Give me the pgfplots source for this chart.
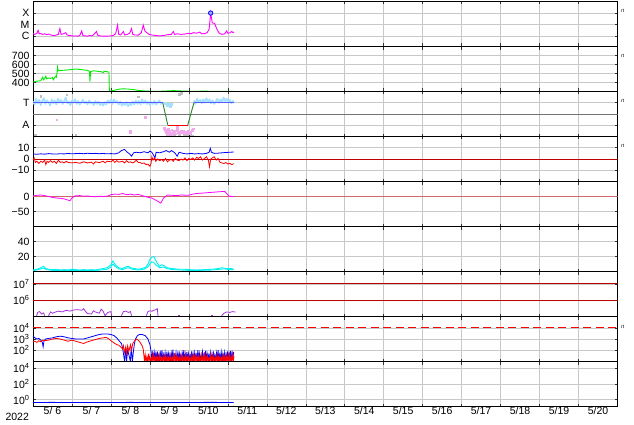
\documentclass[border=0pt]{standalone}
\usepackage{fontspec}
\setmainfont{Liberation Sans}
\usepackage{pgfplots}
\pgfplotsset{compat=1.18}
\definecolor{gridgray}{RGB}{200,200,200}
\definecolor{mag}{RGB}{255,0,255}
\definecolor{grn}{RGB}{0,235,0}
\definecolor{ltblue}{RGB}{165,225,255}
\definecolor{tblue}{RGB}{90,90,255}
\definecolor{tgreen}{RGB}{40,130,40}
\definecolor{pinkish}{RGB}{240,170,235}
\definecolor{dotgray}{RGB}{190,190,190}
\definecolor{darkred}{RGB}{190,0,0}
\definecolor{zeroline}{RGB}{205,105,105}
\definecolor{cyn}{RGB}{0,240,240}
\definecolor{purp}{RGB}{165,50,220}
\pgfplotsset{
 panel/.style={
  scale only axis, width=584.5pt, height=45pt, xmin=0, xmax=15,
  xtick={0,...,15}, xticklabels={}, xmajorgrids, ymajorgrids,
  grid style={draw=gridgray, line width=0.5pt},
  separate axis lines,
  x axis line style={line width=1.8pt},
  y axis line style={line width=0.7pt},
  tick style={black!80, line width=0.5pt}, major tick length=3pt,
  ticklabel style={font=\fontsize{10.5}{11}\selectfont, inner ysep=0.5pt},
  /pgf/number format/assume math mode=true,
  anchor=south west, unbounded coords=jump,
 },
 rt/.style={extra description/.code={\node[anchor=west,font=\fontsize{5}{6}\selectfont,inner sep=0pt] at (axis description cs:1.006,#1) {rt};}},
}
\begin{document}
\begin{tikzpicture}
\useasboundingbox (0,0) rectangle (634pt,424pt);
% Panel 1: X-ray class
\begin{axis}[panel, at={(33pt,377.5pt)}, ymin=-6.9, ymax=-3.0,
  ytick={-6,-5,-4}, yticklabels={C,M,X}, rt=0.78]
\addplot[mag, line width=0.9pt] coordinates {(0.00,-5.80) (0.05,-5.85) (0.10,-5.75) (0.13,-5.50) (0.16,-5.80) (0.20,-5.78) (0.25,-5.85) (0.30,-5.80) (0.35,-5.88) (0.40,-5.82) (0.45,-5.90) (0.50,-5.93) (0.55,-5.95) (0.60,-5.90) (0.65,-5.85) (0.69,-5.35) (0.72,-5.85) (0.78,-5.80) (0.84,-5.70) (0.87,-5.88) (0.92,-5.95) (1.00,-5.97) (1.05,-6.00) (1.10,-5.98) (1.15,-6.00) (1.20,-5.95) (1.25,-5.55) (1.28,-5.95) (1.35,-5.98) (1.40,-6.00) (1.45,-5.95) (1.50,-5.98) (1.55,-5.90) (1.63,-5.60) (1.66,-5.92) (1.72,-5.98) (1.80,-6.00) (1.90,-6.00) (2.00,-5.98) (2.05,-5.95) (2.12,-5.80) (2.17,-5.05) (2.20,-5.85) (2.25,-5.90) (2.32,-5.60) (2.35,-5.90) (2.42,-5.85) (2.48,-5.75) (2.53,-5.35) (2.56,-5.85) (2.62,-5.90) (2.70,-5.92) (2.78,-5.70) (2.83,-5.05) (2.87,-5.55) (2.92,-5.70) (2.98,-5.85) (3.05,-5.90) (3.15,-5.95) (3.25,-5.98) (3.35,-5.95) (3.45,-5.88) (3.55,-5.85) (3.60,-5.60) (3.63,-5.85) (3.70,-5.80) (3.80,-5.85) (3.90,-5.82) (4.00,-5.75) (4.05,-5.80) (4.12,-5.70) (4.20,-5.75) (4.28,-5.65) (4.33,-5.80) (4.40,-5.78) (4.47,-5.70) (4.52,-5.40) (4.56,-4.00) (4.60,-4.85) (4.66,-4.90) (4.72,-5.40) (4.78,-5.75) (4.85,-5.85) (4.92,-5.80) (4.97,-5.55) (5.00,-5.75) (5.05,-5.72) (5.10,-5.60) (5.13,-5.70) (5.16,-5.65)};
\addplot[only marks, mark=*, mark size=2.2pt, draw=blue, fill=blue!35, line width=0.8pt] coordinates {(4.56,-4.0)};
\end{axis}
% Panel 2: solar wind speed
\begin{axis}[panel, at={(33pt,332.5pt)}, ymin=300, ymax=800,
  ytick={400,500,600,700}, rt=0.78]
\addplot[grn, line width=0.9pt] coordinates {(0,405) (0.1,415) (0.2,420) (0.25,460) (0.27,430) (0.3,445) (0.33,470) (0.35,440) (0.4,450) (0.45,445) (0.5,455) (0.52,430) (0.55,450) (0.58,470) (0.6,460) (0.62,520) (0.63,570) (0.65,530) (0.75,535) (0.9,540) (1.0,545) (1.1,550) (1.2,545) (1.3,540) (1.4,535) (1.45,525) (1.46,410) (1.48,520) (1.55,530) (1.65,525) (1.75,520) (1.8,510) (1.83,525) (1.9,520) (1.95,515) (1.96,300) (2.0,305) (2.1,315) (2.2,325) (2.3,330) (2.4,328) (2.5,325) (2.6,320) (2.7,312) (2.8,308) (2.9,305) (3.0,303) (3.2,302) (3.4,305) (3.6,310) (3.8,306) (4.0,303) (4.2,302) (4.4,305) (4.6,301) (4.8,303) (5.0,302) (5.15,303)};
\end{axis}
% Panel 3: T / A
\begin{axis}[panel, at={(33pt,287.5pt)}, ymin=-2, ymax=2,
  ytick={-1,1}, yticklabels={A,T}, rt=0.78]
\addplot[black!55, line width=0.8pt] coordinates {(0,0) (15,0)};
\addplot[ltblue, line width=1.8pt, line join=round] coordinates {(0.00,1.10) (0.04,0.85) (0.08,1.35) (0.12,0.95) (0.16,1.25) (0.20,0.80) (0.24,1.15) (0.28,1.40) (0.32,0.90) (0.36,1.20) (0.40,1.05) (0.44,0.75) (0.48,1.30) (0.52,0.95) (0.56,1.20) (0.60,0.85) (0.64,1.35) (0.68,1.00) (0.72,1.25) (0.76,0.90) (0.80,1.15) (0.84,1.45) (0.88,0.95) (0.92,1.10) (0.96,0.80) (1.00,1.20) (1.04,1.00) (1.08,1.30) (1.12,0.90) (1.16,1.15) (1.20,0.85) (1.24,1.05) (1.28,1.25) (1.32,0.95) (1.36,1.10) (1.40,0.85) (1.44,1.20) (1.48,0.95) (1.52,1.05) (1.56,0.80) (1.60,1.15) (1.64,0.90) (1.68,1.10) (1.72,0.80) (1.76,1.00) (1.80,0.75) (1.84,1.05) (1.88,0.85) (1.92,1.20) (1.96,0.95) (2.00,1.25) (2.04,0.90) (2.08,1.30) (2.12,1.00) (2.16,1.15) (2.20,0.85) (2.24,1.10) (2.28,0.75) (2.32,1.00) (2.36,0.80) (2.40,1.05) (2.44,0.70) (2.48,0.95) (2.52,0.80) (2.56,1.10) (2.60,0.85) (2.64,1.20) (2.68,0.90) (2.72,1.15) (2.76,0.85) (2.80,1.30) (2.84,0.95) (2.88,1.20) (2.92,0.90) (2.96,1.10) (3.00,0.80) (3.04,1.05) (3.08,0.90) (3.12,1.15) (3.16,0.85) (3.20,1.00) (3.24,1.20) (3.28,0.90) (3.32,1.05) (3.36,nan) (4.13,1.20) (4.17,0.90) (4.21,1.35) (4.25,1.05) (4.29,1.25) (4.33,0.95) (4.37,1.30) (4.41,1.00) (4.45,1.40) (4.49,1.10) (4.53,1.30) (4.57,0.95) (4.61,1.20) (4.65,0.90) (4.69,1.10) (4.73,1.35) (4.77,1.00) (4.81,1.30) (4.85,1.05) (4.89,1.45) (4.93,1.15) (4.97,1.35) (5.01,1.05) (5.05,1.25) (5.09,0.95) (5.13,1.15) (5.16,1.00)};
\addplot[only marks, mark=square*, mark size=0.9pt, ltblue] coordinates {(3.40,0.95) (3.44,0.75) (3.47,0.90) (3.52,0.65) (3.55,0.85)};
\addplot[only marks, mark=square*, mark size=0.8pt, dotgray] coordinates {(0.86,1.7) (0.20,1.6) (2.70,1.55) (3.81,1.84) (3.75,1.75) (3.50,-1.9) (3.62,-1.85) (3.75,-1.9) (3.88,-1.85) (3.95,-1.9) (4.05,-1.88) (4.10,-1.92) (0.05,-1.9) (1.10,-1.9)};
\addplot[only marks, mark=square*, mark size=0.9pt, pinkish] coordinates {(0.61,-0.5) (2.87,-0.3) (2.49,-1.5) (2.49,-1.65) (3.36,-1.25) (3.40,-1.45) (3.42,-1.6) (3.46,-1.35) (3.50,-1.55) (3.53,-1.7) (3.56,-1.4) (3.60,-1.6) (3.63,-1.5) (3.66,-1.75) (3.70,-1.45) (3.73,-1.6) (3.76,-1.7) (3.80,-1.5) (3.83,-1.65) (3.86,-1.55) (3.90,-1.75) (3.93,-1.6) (3.97,-1.5) (4.00,-1.7) (4.04,-1.6) (4.08,-1.45) (4.12,-1.3) (3.44,-1.8) (3.58,-1.8) (3.70,-1.2)};
\addplot[tblue, line width=1pt] coordinates {(0,1) (3.33,1) (3.34,nan) (4.13,1) (5.16,1)};
\addplot[tgreen, line width=0.9pt] coordinates {(3.33,1) (3.46,-1) (3.47,nan) (3.97,-1) (4.13,1)};
\addplot[red, line width=1pt] coordinates {(3.46,-1) (3.97,-1)};
\end{axis}
% Panel 4: magnetic field
\begin{axis}[panel, at={(33pt,242.5pt)}, ymin=-20, ymax=20,
  ytick={-10,0,10}, yticklabels={−10,0,10}, rt=0.78]
\addplot[darkred, line width=0.8pt] coordinates {(0,0) (15,0)};
\addplot[blue, line width=0.8pt] coordinates {(0,4.5) (0.1,4.2) (0.2,4.6) (0.3,4.3) (0.4,4.8) (0.5,4.5) (0.6,4.4) (0.7,4.7) (0.8,4.5) (0.9,4.9) (1.0,4.6) (1.1,4.8) (1.2,5.0) (1.3,4.7) (1.4,5.1) (1.5,4.8) (1.6,5.0) (1.7,4.7) (1.8,4.9) (1.9,4.6) (2.0,4.8) (2.1,4.5) (2.2,5.5) (2.27,7.5) (2.35,8.5) (2.42,6) (2.48,4.5) (2.53,2.5) (2.58,5.5) (2.65,6) (2.75,5.5) (2.85,6.5) (2.95,5.5) (3.0,7) (3.05,6) (3.1,3) (3.13,1) (3.16,6) (3.25,5.5) (3.35,6.5) (3.42,7.5) (3.5,6) (3.55,7.5) (3.6,6.5) (3.65,5) (3.7,2.5) (3.75,6) (3.85,5) (3.95,4.5) (4.05,5) (4.15,4.5) (4.25,4.8) (4.35,4.5) (4.45,5) (4.52,6) (4.55,9.5) (4.58,6) (4.65,5) (4.75,5.2) (4.85,5.5) (4.95,5.8) (5.05,6) (5.15,6.2)};
\addplot[red, line width=0.8pt] coordinates {(0,-1) (0.03,1) (0.06,-3) (0.1,-2) (0.15,-4) (0.2,-2) (0.25,-3) (0.3,-1) (0.33,-5) (0.36,-2) (0.4,-3) (0.45,-1.5) (0.5,-3) (0.55,-2) (0.6,-4) (0.65,-1) (0.7,-3) (0.75,-2.5) (0.8,-3.5) (0.85,-2) (0.9,-3) (1.0,-3.5) (1.1,-3) (1.2,-3.8) (1.3,-2.5) (1.4,-3.5) (1.5,-2.8) (1.55,-4.5) (1.6,-2.5) (1.7,-3.2) (1.8,-2) (1.85,-3.5) (1.9,-2) (2.0,-2.5) (2.05,-1) (2.1,-3) (2.15,-1.5) (2.2,-2.8) (2.3,-2) (2.35,-3.5) (2.4,-1.5) (2.45,-3) (2.5,-2.5) (2.55,-3.5) (2.6,-2.8) (2.65,-1) (2.7,-3) (2.75,-3.2) (2.8,-4) (2.85,-3.5) (2.9,-5) (2.95,-4.5) (3.0,-6.5) (3.03,-4) (3.05,2) (3.08,-1) (3.12,1) (3.15,-2) (3.2,0) (3.25,-1.5) (3.3,-0.5) (3.35,-2) (3.4,0.5) (3.45,-2.5) (3.5,-1) (3.55,-0.5) (3.6,-2) (3.65,0.5) (3.7,-1) (3.75,-1.5) (3.8,0) (3.85,-1) (3.9,1) (3.95,-1.5) (4.0,0.5) (4.05,-0.5) (4.1,1) (4.15,-1) (4.2,1.5) (4.25,0.5) (4.3,2) (4.35,-1) (4.4,0.5) (4.45,2) (4.5,-1) (4.53,-7) (4.56,0) (4.6,1) (4.65,2) (4.7,-1) (4.75,0.5) (4.8,-3) (4.85,-3.5) (4.9,-4) (4.95,-3.2) (5.0,-4.5) (5.05,-3.8) (5.1,-5) (5.15,-4.2)};
\end{axis}
% Panel 5
\begin{axis}[panel, at={(33pt,197.5pt)}, ymin=-100, ymax=50,
  ytick={-50,0}, yticklabels={−50,0}]
\addplot[zeroline, line width=1.8pt] coordinates {(0,0) (15,0)};
\addplot[mag, line width=0.8pt] coordinates {(0,2) (0.1,4) (0.2,5) (0.3,3) (0.4,0) (0.5,-3) (0.6,-5) (0.7,-6) (0.8,-8) (0.9,-12) (0.95,-14) (1.0,-5) (1.08,2) (1.2,3) (1.3,1) (1.4,2) (1.5,0) (1.6,-1) (1.7,1) (1.8,0) (1.93,2) (2.0,6) (2.1,8) (2.2,7) (2.3,10) (2.4,6) (2.5,8) (2.6,5) (2.7,7) (2.83,2) (2.96,-3) (3.05,-5) (3.15,-12) (3.28,-22) (3.35,-5) (3.45,5) (3.56,4) (3.7,3) (3.8,5) (3.98,4) (4.1,8) (4.2,10) (4.3,11) (4.41,12) (4.5,13) (4.6,14) (4.7,15) (4.8,16) (4.92,17) (4.97,10) (5.03,1) (5.1,0) (5.15,0)};
\end{axis}
% Panel 6
\begin{axis}[panel, at={(33pt,152.5pt)}, ymin=0, ymax=60,
  ytick={20,40}]
\addplot[cyn, line width=0.9pt] coordinates {(0,2) (0.1,3) (0.2,5) (0.27,7) (0.33,4) (0.4,3) (0.5,2.5) (0.6,3) (0.7,2) (0.8,2.5) (0.9,2) (1.0,3) (1.1,2.5) (1.2,2) (1.3,2.5) (1.4,2) (1.5,2.5) (1.6,2) (1.7,3) (1.8,4) (1.9,5) (2.0,9) (2.05,14) (2.1,10) (2.15,7) (2.2,5) (2.3,4) (2.4,6.5) (2.45,7) (2.5,5) (2.6,4) (2.7,3) (2.8,4) (2.9,6) (2.95,10) (3.0,16) (3.05,19) (3.1,20) (3.15,15) (3.2,10) (3.25,7) (3.3,9) (3.35,8) (3.45,5) (3.55,4) (3.65,3.5) (3.75,3) (3.9,3) (4.0,2.5) (4.2,2) (4.4,2.5) (4.6,3) (4.75,4) (4.85,5) (4.95,4) (5.05,4) (5.15,3.5)};
\addplot[cyn, line width=0.9pt] coordinates {(0,1) (0.1,2) (0.2,3.5) (0.27,4.5) (0.35,2.5) (0.5,1.5) (0.7,1.2) (0.9,1.5) (1.1,1.2) (1.3,1.5) (1.5,1.2) (1.7,1.8) (1.9,3) (2.0,6) (2.05,10) (2.1,7) (2.2,3.5) (2.3,2.5) (2.4,4.5) (2.45,5) (2.55,3) (2.7,2) (2.85,3) (2.95,6) (3.0,10) (3.05,13) (3.1,12) (3.15,9) (3.25,5) (3.35,6) (3.45,3.5) (3.6,2.5) (3.8,2) (4.0,1.5) (4.3,1.5) (4.6,2) (4.8,3) (4.9,3.5) (5.05,2.5) (5.15,2.5)};
\end{axis}
% Panel 7
\begin{axis}[panel, at={(33pt,107.5pt)}, ymin=5, ymax=7.75,
  ytick={6,7}, yticklabels={10\textsuperscript{6},10\textsuperscript{7}}]
\addplot[darkred, line width=1pt] coordinates {(0,6) (15,6)};
\addplot[darkred, line width=1pt] coordinates {(0,7) (15,7)};
\addplot[purp, line width=0.8pt] coordinates {(0.09,5.02) (0.12,5.25) (0.17,5.3) (0.22,5.15) (0.27,5.22) (0.30,5.05) (0.31,nan) (0.40,5.05) (0.45,5.28) (0.50,5.2) (0.55,5.25) (0.65,5.33) (0.75,5.28) (0.85,5.38) (0.95,5.33) (1.05,5.4) (1.15,5.42) (1.25,5.38) (1.30,5.48) (1.35,5.3) (1.40,5.18) (1.50,5.15) (1.55,5.35) (1.60,5.28) (1.70,5.2) (1.75,5.45) (1.80,5.32) (1.85,5.05) (1.92,5.25) (2.00,5.3) (2.02,5.02) (2.03,nan) (2.27,5.05) (2.32,5.3) (2.38,5.33) (2.45,5.25) (2.50,5.3) (2.53,5.05) (2.54,nan) (2.91,5.05) (2.95,5.3) (3.00,5.35) (3.05,5.32) (3.10,5.38) (3.15,5.42) (3.19,5.48) (3.21,5.02) (3.22,nan) (4.84,5.05) (4.90,5.2) (4.97,5.28) (5.05,5.25) (5.12,5.3) (5.20,5.27)};
\addplot[only marks, mark=square*, mark size=0.7pt, purp] coordinates {(3.74,5.05) (4.58,5.05)};
\end{axis}
% Panel 8
\begin{axis}[panel, at={(33pt,62.5pt)}, ymin=1, ymax=5,
  ytick={2,3,4}, yticklabels={10\textsuperscript{2},10\textsuperscript{3},10\textsuperscript{4}}, rt=0.76]
\addplot[red, line width=1.3pt, dash pattern=on 8pt off 4.5pt] coordinates {(0,4) (15,4)};
\addplot[blue, line width=0.8pt] coordinates {(0,3.25) (0.05,3.1) (0.1,3.0) (0.15,3.05) (0.2,2.9) (0.24,2.7) (0.26,2.3) (0.28,2.8) (0.32,3.0) (0.4,3.05) (0.5,3.1) (0.6,3.2) (0.7,3.25) (0.8,3.2) (0.9,3.1) (1.0,3.05) (1.1,3.0) (1.2,3.0) (1.3,3.0) (1.4,3.1) (1.5,3.2) (1.6,3.3) (1.7,3.4) (1.8,3.45) (1.9,3.45) (2.0,3.4) (2.08,3.3) (2.15,3.1) (2.22,2.8) (2.27,2.6) (2.3,2.2) (2.33,1.5) (2.35,1.0) (2.38,2.2) (2.4,1.0) (2.43,2.0) (2.46,1.6) (2.5,1.0) (2.52,2.3) (2.55,1.0) (2.58,2.0) (2.6,2.5) (2.63,3.0) (2.68,3.3) (2.73,3.4) (2.8,3.4) (2.88,3.3) (2.95,3.0) (3.0,2.5) (3.03,1.9) (3.05,1.2) (3.07,1.75) (3.09,1.1) (3.11,1.85) (3.13,1.3) (3.15,1.7) (3.17,1.1) (3.19,1.9) (3.21,1.2) (3.23,1.6) (3.25,1.0) (3.27,1.75) (3.29,1.3) (3.31,2.0) (3.33,1.1) (3.35,1.6) (3.37,1.2) (3.39,1.8) (3.41,1.0) (3.43,1.65) (3.45,1.25) (3.47,1.9) (3.49,1.1) (3.51,1.55) (3.53,1.0) (3.55,1.7) (3.57,1.2) (3.59,2.05) (3.61,1.1) (3.63,1.6) (3.65,1.3) (3.67,1.8) (3.69,1.0) (3.71,1.65) (3.73,1.15) (3.75,1.9) (3.77,1.2) (3.79,1.55) (3.81,1.0) (3.83,1.75) (3.85,1.3) (3.87,2.0) (3.89,1.1) (3.91,1.6) (3.93,1.2) (3.95,1.85) (3.97,1.0) (3.99,1.7) (4.01,1.25) (4.03,1.55) (4.05,1.1) (4.07,1.9) (4.09,1.2) (4.11,1.65) (4.13,1.0) (4.15,1.8) (4.17,1.3) (4.19,1.6) (4.21,1.1) (4.23,2.0) (4.25,1.2) (4.27,1.7) (4.29,1.0) (4.31,1.55) (4.33,1.25) (4.35,1.85) (4.37,1.1) (4.39,1.6) (4.41,1.2) (4.43,1.95) (4.45,1.0) (4.47,1.7) (4.49,1.3) (4.51,1.6) (4.53,1.1) (4.55,1.8) (4.57,1.2) (4.59,1.65) (4.61,1.0) (4.63,1.9) (4.65,1.25) (4.67,1.55) (4.69,1.1) (4.71,1.75) (4.73,1.2) (4.75,2.0) (4.77,1.0) (4.79,1.6) (4.81,1.3) (4.83,1.85) (4.85,1.1) (4.87,1.65) (4.89,1.2) (4.91,1.8) (4.93,1.0) (4.95,1.6) (4.97,1.25) (4.99,1.9) (5.01,1.1) (5.03,1.7) (5.05,1.2) (5.07,1.95) (5.09,1.0) (5.11,1.75) (5.13,1.3) (5.15,1.85)};
\addplot[red, line width=0.8pt] coordinates {(0,2.75) (0.05,2.8) (0.1,2.7) (0.15,2.85) (0.2,2.75) (0.25,2.9) (0.3,2.85) (0.4,2.9) (0.5,3.0) (0.6,3.05) (0.7,3.0) (0.8,2.9) (0.9,2.8) (1.0,2.9) (1.1,2.8) (1.2,2.7) (1.3,2.6) (1.4,2.75) (1.5,2.85) (1.6,2.95) (1.7,3.05) (1.8,3.1) (1.87,3.15) (1.95,3.0) (2.0,2.85) (2.08,2.65) (2.15,2.5) (2.2,2.45) (2.25,2.3) (2.3,2.1) (2.32,2.4) (2.35,1.8) (2.38,2.3) (2.4,1.7) (2.43,2.4) (2.46,1.9) (2.5,2.5) (2.53,2.0) (2.56,2.6) (2.6,2.8) (2.65,3.0) (2.7,2.9) (2.75,2.7) (2.8,2.4) (2.83,2.1) (2.86,1.0) (2.88,1.6) (2.90,1) (2.92,1.4) (2.94,1) (2.96,1.7) (2.98,1) (3.00,1.5) (3.02,1) (3.04,1.3) (3.06,1) (3.08,1.8) (3.10,1) (3.12,1.4) (3.14,1) (3.16,1.55) (3.18,1) (3.20,1.35) (3.22,1) (3.24,1.6) (3.26,1) (3.28,1.45) (3.30,1) (3.32,1.3) (3.34,1) (3.36,1.7) (3.38,1) (3.40,1.4) (3.42,1) (3.44,1.5) (3.46,1) (3.48,1.35) (3.50,1) (3.52,1.6) (3.54,1) (3.56,1.3) (3.58,1) (3.60,1.5) (3.62,1) (3.64,1.75) (3.66,1) (3.68,1.4) (3.70,1) (3.72,1.55) (3.74,1) (3.76,1.3) (3.78,1) (3.80,1.6) (3.82,1) (3.84,1.45) (3.86,1) (3.88,1.35) (3.90,1) (3.92,1.65) (3.94,1) (3.96,1.4) (3.98,1) (4.00,1.5) (4.02,1) (4.04,1.3) (4.06,1) (4.08,1.6) (4.10,1) (4.12,1.45) (4.14,1) (4.16,1.7) (4.18,1) (4.20,1.4) (4.22,1) (4.24,1.55) (4.26,1) (4.28,1.35) (4.30,1) (4.32,1.6) (4.34,1) (4.36,1.45) (4.38,1) (4.40,1.8) (4.42,1) (4.44,1.4) (4.46,1) (4.48,1.5) (4.50,1) (4.52,1.3) (4.54,1) (4.56,1.65) (4.58,1) (4.60,1.45) (4.62,1) (4.64,1.55) (4.66,1) (4.68,1.35) (4.70,1) (4.72,1.6) (4.74,1) (4.76,1.4) (4.78,1) (4.80,1.5) (4.82,1) (4.84,1.3) (4.86,1) (4.88,1.7) (4.90,1) (4.92,1.45) (4.94,1) (4.96,1.55) (4.98,1) (5.00,1.4) (5.02,1) (5.04,1.6) (5.06,1) (5.08,1.45) (5.10,1) (5.12,1.65) (5.14,1) (5.16,1.5)};
\end{axis}
% Panel 9
\begin{axis}[panel, at={(33pt,17.5pt)}, ymin=-0.85, ymax=4.8,
  ytick={0,2,4}, yticklabels={10\textsuperscript{0},10\textsuperscript{2},10\textsuperscript{4}},
  extra x ticks={0.5,1.5,...,14.5},
  extra x tick labels={5/ 6,5/ 7,5/ 8,5/ 9,5/10,5/11,5/12,5/13,5/14,5/15,5/16,5/17,5/18,5/19,5/20},
  extra x tick style={grid=none, major tick length=0pt},
  extra description/.code={\node[font=\fontsize{10.5}{11}\selectfont] at (axis description cs:-0.027,-0.22) {2022};}]
\addplot[blue, line width=0.8pt] coordinates {(0,-0.35) (0.5,-0.33) (1,-0.36) (1.5,-0.34) (2,-0.35) (2.5,-0.33) (3,-0.36) (3.5,-0.34) (4,-0.35) (4.5,-0.33) (5,-0.34) (5.15,-0.35)};
\end{axis}
\end{tikzpicture}
\end{document}
